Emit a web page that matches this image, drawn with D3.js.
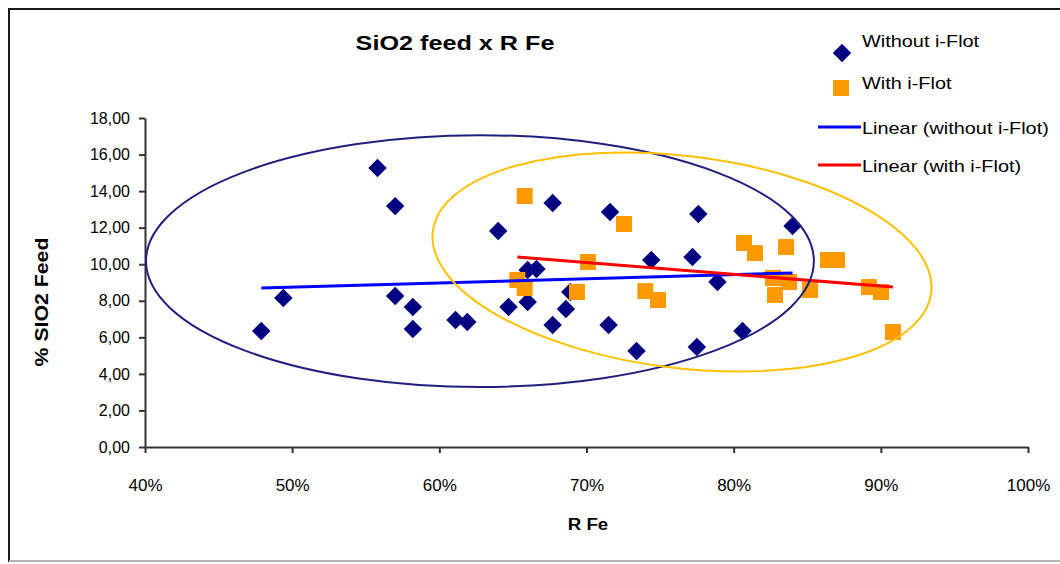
<!DOCTYPE html>
<html>
<head>
<meta charset="utf-8">
<script src="https://cdn.jsdelivr.net/npm/d3@7/dist/d3.min.js"></script>
<style>
  html, body { margin: 0; padding: 0; background: #fff; }
  svg { display: block; }
  text { font-family: "Liberation Sans", Arial, sans-serif; fill: #000; }
</style>
</head>
<body>
<svg id="chart" width="1060" height="564"></svg>
<script>
// R Fe (recovery) and SiO2 feed, without i-Flot
const withoutX = [0.479, 0.494, 0.558, 0.570, 0.570, 0.582, 0.582, 0.611, 0.619, 0.640,
                  0.647, 0.660, 0.666, 0.660, 0.677, 0.677, 0.686, 0.689, 0.716, 0.715,
                  0.734, 0.744, 0.772, 0.776, 0.775, 0.789, 0.806, 0.840];
const withoutY = [6.35, 8.15, 15.26, 13.18, 8.26, 7.66, 6.46, 6.95, 6.84, 11.82,
                  7.66, 9.68, 9.74, 7.93, 13.35, 6.67, 7.55, 8.48, 12.86, 6.67,
                  5.25, 10.23, 10.39, 12.75, 5.47, 9.03, 6.35, 12.09];

// R Fe and SiO2 feed, with i-Flot
const withX = [0.658, 0.7255, 0.701, 0.653, 0.658, 0.6935, 0.740, 0.7486, 0.807, 0.8145,
               0.8356, 0.8267, 0.8376, 0.8281, 0.8519, 0.8641, 0.8702, 0.8919, 0.9001, 0.9082];
const withY = [13.73, 12.20, 10.12, 9.14, 8.70, 8.48, 8.53, 8.04, 11.16, 10.61,
               10.94, 9.25, 9.03, 8.32, 8.59, 10.23, 10.23, 8.75, 8.48, 6.29];

// Linear trend values at the first and last R Fe of each series
const trendWithoutY = [8.70, 9.52];
const trendWithY = [10.39, 8.75];

// Highlight ellipses: centre, radii (data units) and tilt in degrees
const ellipseCx = [0.6276, 0.7649];
const ellipseCy = [10.17, 10.12];
const ellipseRx = [0.2269, 0.1706];
const ellipseRy = [6.89, 5.80];
const ellipseTilt = [0, 7];

const xTicks = [0.4, 0.5, 0.6, 0.7, 0.8, 0.9, 1.0];
const yTicks = [0, 2, 4, 6, 8, 10, 12, 14, 16, 18];

const titleText = "SiO2 feed x R Fe";
const xTitle = "R Fe";
const yTitle = "% SIO2 Feed";
const legendLabels = ["Without i-Flot", "With i-Flot", "Linear (without i-Flot)", "Linear (with i-Flot)"];

const svg = d3.select("#chart");
const plot = { left: 145, right: 1028, top: 118, bottom: 447 };

const x = d3.scaleLinear().domain([0.4, 1.0]).range([plot.left, plot.right]);
const y = d3.scaleLinear().domain([0, 18]).range([plot.bottom, plot.top]);

const locale = d3.formatLocale({ decimal: ",", thousands: ".", grouping: [3], currency: ["", ""] });
const fmtY = locale.format(".2f");
const fmtX = d3.format(".0%");

// text drawn with a slight horizontal widening
function wideText(g, tx, ty, str, opts) {
  const k = opts.k || 1.12;
  return g.append("text")
    .attr("transform", `translate(${tx},${ty}) rotate(${opts.rot || 0}) scale(${k},1)`)
    .attr("text-anchor", opts.anchor || "start")
    .attr("font-size", opts.size)
    .attr("font-weight", opts.weight || "normal")
    .text(str);
}

// chart frame
svg.append("rect").attr("x", 9).attr("y", 9).attr("width", 1080).attr("height", 552)
  .attr("fill", "none").attr("stroke", "#1a1a1a").attr("stroke-width", 2);
svg.append("line").attr("x1", 9).attr("x2", 1060).attr("y1", 561).attr("y2", 561)
  .attr("stroke", "#b5b5b5").attr("stroke-width", 2);

// axes
const axisColor = "#333";
const xAxis = svg.append("g").attr("transform", `translate(0,${plot.bottom})`)
  .call(d3.axisBottom(x).tickValues(xTicks).tickFormat(fmtX).tickSize(6).tickSizeOuter(0).tickPadding(26));
const yAxis = svg.append("g").attr("transform", `translate(${plot.left},0)`)
  .call(d3.axisLeft(y).tickValues(yTicks).tickFormat(fmtY).tickSize(6).tickSizeOuter(0).tickPadding(9));
[xAxis, yAxis].forEach(a => {
  a.select(".domain").attr("stroke", axisColor).attr("stroke-width", 2);
  a.selectAll(".tick line").attr("stroke", axisColor).attr("stroke-width", 2);
  a.selectAll(".tick text").attr("font-size", 16).attr("fill", "#000")
    .attr("font-family", "'Liberation Sans', Arial, sans-serif");
});
xAxis.selectAll(".tick text").attr("font-size", 17);

// markers: navy diamonds, orange squares
const diamond = d3.symbol().type(d3.symbolSquare).size(170)();
const square = d3.symbol().type(d3.symbolSquare).size(256)();

svg.append("g").selectAll("path").data(d3.range(withoutX.length)).join("path")
  .attr("d", diamond)
  .attr("transform", i => `translate(${x(withoutX[i])},${y(withoutY[i])}) rotate(45)`)
  .attr("fill", "#000080");

svg.append("g").selectAll("path").data(d3.range(withX.length)).join("path")
  .attr("d", square)
  .attr("transform", i => `translate(${x(withX[i])},${y(withY[i])})`)
  .attr("fill", "#FF9900");

// linear trend lines over each series' R Fe range
const line = d3.line().x(d => x(d[0])).y(d => y(d[1]));
const exWithout = d3.extent(withoutX);
const exWith = d3.extent(withX);
svg.append("path")
  .attr("d", line([[exWithout[0], trendWithoutY[0]], [exWithout[1], trendWithoutY[1]]]))
  .attr("stroke", "#0000FF").attr("stroke-width", 3).attr("fill", "none");
svg.append("path")
  .attr("d", line([[exWith[0], trendWithY[0]], [exWith[1], trendWithY[1]]]))
  .attr("stroke", "#FF0000").attr("stroke-width", 3).attr("fill", "none");

// highlight ellipses
const ellipseColors = ["#1f1f80", "#FFC000"];
svg.append("g").selectAll("ellipse").data(d3.range(ellipseCx.length)).join("ellipse")
  .attr("cx", i => x(ellipseCx[i]))
  .attr("cy", i => y(ellipseCy[i]))
  .attr("rx", i => x(ellipseCx[i] + ellipseRx[i]) - x(ellipseCx[i]))
  .attr("ry", i => y(ellipseCy[i] - ellipseRy[i]) - y(ellipseCy[i]))
  .attr("transform", i => `rotate(${ellipseTilt[i]},${x(ellipseCx[i])},${y(ellipseCy[i])})`)
  .attr("fill", "none")
  .attr("stroke", (d, i) => ellipseColors[i])
  .attr("stroke-width", 2);

// titles
wideText(svg, 455, 50, titleText, { size: 21, weight: "bold", anchor: "middle", k: 1.2 });
wideText(svg, 588, 530, xTitle, { size: 17, weight: "bold", anchor: "middle", k: 1.1 });
wideText(svg, 48, 302, yTitle, { size: 19, weight: "bold", anchor: "middle", rot: -90, k: 1.12 });

// legend
const leg = svg.append("g");
leg.append("path").attr("d", diamond).attr("transform", "translate(842,53) rotate(45)").attr("fill", "#000080");
leg.append("path").attr("d", square).attr("transform", "translate(841,88)").attr("fill", "#FF9900");
leg.append("line").attr("x1", 818).attr("x2", 861).attr("y1", 127).attr("y2", 127)
  .attr("stroke", "#0000FF").attr("stroke-width", 3);
leg.append("line").attr("x1", 818).attr("x2", 861).attr("y1", 165).attr("y2", 165)
  .attr("stroke", "#FF0000").attr("stroke-width", 3);
const legY = [47, 89, 134, 172];
const legX = [862, 862, 862, 862];
legendLabels.forEach((s, i) => wideText(leg, legX[i], legY[i], s, { size: 17, k: 1.17 }));
</script>
</body>
</html>
